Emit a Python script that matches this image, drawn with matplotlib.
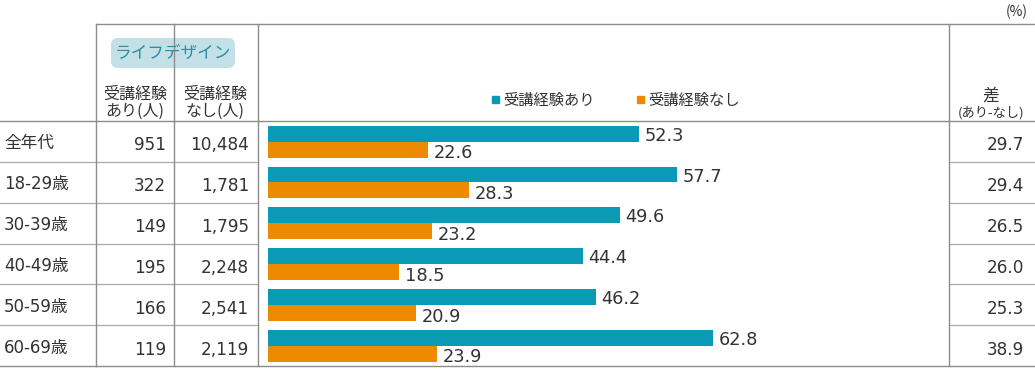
import matplotlib
matplotlib.use("Agg")
import matplotlib.pyplot as plt
from matplotlib.patches import FancyBboxPatch

plt.rcParams["font.family"] = ["Noto Sans CJK JP", "DejaVu Sans"]

# ── data ─────────────────────────────────────────────
groups     = ["全年代", "18-29歳", "30-39歳", "40-49歳", "50-59歳", "60-69歳"]
n_with     = ["951", "322", "149", "195", "166", "119"]
n_without  = ["10,484", "1,781", "1,795", "2,248", "2,541", "2,119"]
pct_with   = [52.3, 57.7, 49.6, 44.4, 46.2, 62.8]
pct_without = [22.6, 28.3, 23.2, 18.5, 20.9, 23.9]
diff       = [29.7, 29.4, 26.5, 26.0, 25.3, 38.9]

TEAL   = "#0A9AB5"
ORANGE = "#EE8A00"
TXT    = "#333333"
LINE   = "#8C8C8C"
NUMFONT = ["DejaVu Sans", "Noto Sans CJK JP"]

W, H = 1035, 386
fig = plt.figure(figsize=(W / 100, H / 100), dpi=100)

# background axes in pixel coordinates for the table frame
bg = fig.add_axes([0, 0, 1, 1])
bg.set_xlim(0, W)
bg.set_ylim(H, 0)
bg.axis("off")

TOP, HEAD_BOT, BOT = 24, 121, 366
row_h = (BOT - HEAD_BOT) / len(groups)
col_x = [96, 174, 258, 949]

bg.plot([96, W], [TOP, TOP], color=LINE, lw=1)
bg.plot([0, W], [HEAD_BOT, HEAD_BOT], color=LINE, lw=1)
bg.plot([0, W], [BOT, BOT], color=LINE, lw=1)
for i in range(1, len(groups)):
    y = HEAD_BOT + i * row_h
    bg.plot([0, 258], [y, y], color="#AAAAAA", lw=0.9)
    bg.plot([949, W], [y, y], color="#AAAAAA", lw=0.9)
for x in col_x:
    bg.plot([x, x], [TOP, BOT], color=LINE, lw=1)

# header
bg.add_patch(FancyBboxPatch((111, 38), 124, 30, boxstyle="round,pad=0,rounding_size=7",
                            fc="#C3E0E6", ec="none"))
bg.text(173, 53.5, "ライフデザイン", ha="center", va="center", fontsize=12, color="#2B8DA3")
bg.text(135, 103, "受講経験\nあり(人)", ha="center", va="center", fontsize=11.5,
        color=TXT, linespacing=1.0)
bg.text(215, 103, "受講経験\nなし(人)", ha="center", va="center", fontsize=11.5,
        color=TXT, linespacing=1.0)
bg.text(991, 96, "差", ha="center", va="center", fontsize=12, color=TXT)
bg.text(991, 113, "(あり-なし)", ha="center", va="center", fontsize=9.5, color=TXT)
bg.text(1028, 12, "(%)", ha="right", va="center", fontsize=10, color=TXT)

# legend
bg.add_patch(plt.Rectangle((492, 96), 7, 7, color=TEAL))
bg.text(503, 100, "受講経験あり", ha="left", va="center", fontsize=11, color=TXT)
bg.add_patch(plt.Rectangle((637, 96), 7, 7, color=ORANGE))
bg.text(648, 100, "受講経験なし", ha="left", va="center", fontsize=11, color=TXT)

# table cells
for i, g in enumerate(groups):
    yc = HEAD_BOT + (i + 0.5) * row_h
    bg.text(4, yc + 2, g, ha="left", va="center", fontsize=12, color=TXT,
            family=NUMFONT)
    bg.text(166, yc + 4, n_with[i], ha="right", va="center", fontsize=12.2, color=TXT,
            family=NUMFONT)
    bg.text(249, yc + 4, n_without[i], ha="right", va="center", fontsize=12.2, color=TXT,
            family=NUMFONT)
    bg.text(1024, yc + 4, f"{diff[i]:.1f}", ha="right", va="center", fontsize=12.2,
            color=TXT, family=NUMFONT)

# bar axes
px_per_unit = 7.09
x0, x1 = 268, 949
ax = fig.add_axes([x0 / W, 1 - BOT / H, (x1 - x0) / W, (BOT - HEAD_BOT) / H])
ax.set_xlim(0, (x1 - x0) / px_per_unit)
ax.set_ylim(len(groups) - 0.5, -0.5)
ax.axis("off")
ax.patch.set_alpha(0)

ys = list(range(len(groups)))
bh = 0.39
ax.barh([y - 0.19 for y in ys], pct_with, height=bh, color=TEAL)
ax.barh([y + 0.20 for y in ys], pct_without, height=bh, color=ORANGE)
for y, a, b in zip(ys, pct_with, pct_without):
    ax.text(a + 0.8, y - 0.14, f"{a:.1f}", ha="left", va="center", fontsize=12.8,
            color=TXT, family=NUMFONT)
    ax.text(b + 0.8, y + 0.29, f"{b:.1f}", ha="left", va="center", fontsize=12.8,
            color=TXT, family=NUMFONT)

fig.savefig("out.png", dpi=100)
